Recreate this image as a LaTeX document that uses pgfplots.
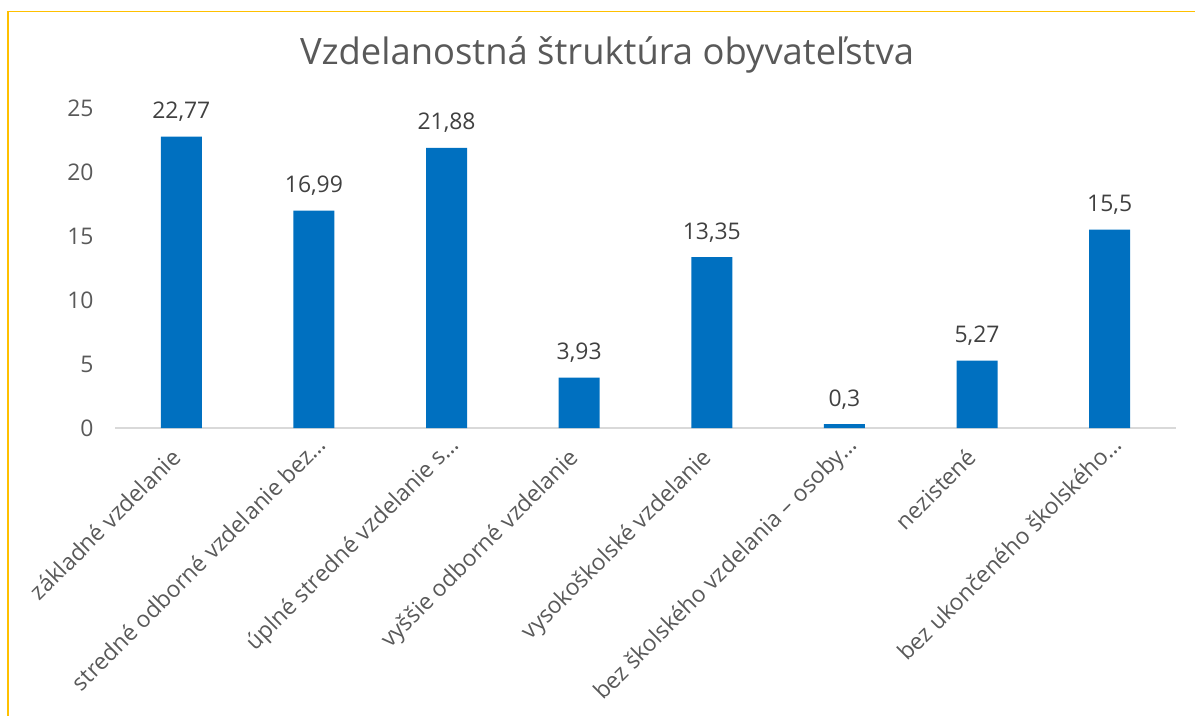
\documentclass[border=0pt]{standalone}
\usepackage{fontspec}
\setmainfont{Open Sans}
\usepackage{pgfplots}
\pgfplotsset{compat=1.18}
\definecolor{barblue}{HTML}{0070C0}
\definecolor{txtgray}{HTML}{595959}
\definecolor{lblgray}{HTML}{404040}
\definecolor{basegray}{HTML}{D9D9D9}
\definecolor{frameyellow}{HTML}{FFC000}
\pgfplotstableread{
x y label
0 22.77 22,77
1 16.99 16,99
2 21.88 21,88
3 3.93 3,93
4 13.35 13,35
5 0.3 0,3
6 5.27 5,27
7 15.5 15,5
}\datatable
\begin{document}
\begin{tikzpicture}
\useasboundingbox (0,0) rectangle (1195bp,716bp);
\draw[frameyellow, line width=1.5bp] (8bp,0) -- (8bp,704.5bp) -- (1195bp,704.5bp);
\node[anchor=base, text=txtgray, inner sep=0pt, font=\fontsize{36.5}{42}\selectfont] at (607bp,651bp) {Vzdelanostná štruktúra obyvateľstva};
\begin{axis}[
  at={(115bp,288bp)}, anchor=south west,
  width=1061bp, height=320bp, scale only axis,
  xmin=-0.5, xmax=7.5, ymin=0, ymax=25,
  separate axis lines,
  axis x line*=bottom, axis y line*=left,
  x axis line style={draw=basegray, line width=1.2bp, -},
  y axis line style={draw=none},
  major tick length=0pt,
  ytick={0,5,10,15,20,25},
  xtick={0,1,2,3,4,5,6,7},
  xticklabels={{základné vzdelanie},{stredné odborné vzdelanie bez\rlap{…}},{úplné stredné vzdelanie s\rlap{…}},{vyššie odborné vzdelanie},{vysokoškolské vzdelanie},{bez školského vzdelania – osoby\rlap{…}},{nezistené},{bez ukončeného školského\rlap{…}}},
  tick label style={text=txtgray, font=\fontsize{23}{27}\selectfont},
  /pgf/number format/assume math mode=true,
  yticklabel style={xshift=-18bp},
  xticklabel style={xshift=1bp, yshift=-31bp, rotate=45, anchor=base east, inner sep=0pt},
  ybar, bar width=41bp,
  nodes near coords,
  point meta=explicit symbolic,
  every node near coord/.append style={text=lblgray, font=\fontsize{23}{27}\selectfont, anchor=base, inner sep=0pt, yshift=18bp},
  clip=false,
]
\addplot[fill=barblue, draw=none] table[x=x, y=y, meta=label] {\datatable};
\end{axis}
\end{tikzpicture}
\end{document}
